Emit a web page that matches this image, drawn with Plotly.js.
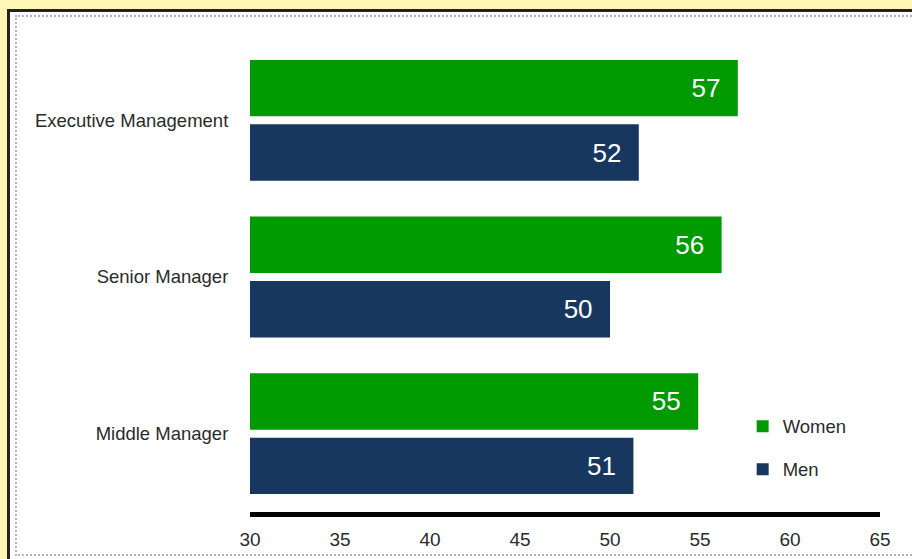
<!DOCTYPE html>
<html>
<head>
<meta charset="utf-8">
<script src="https://cdn.plot.ly/plotly-3.0.1.min.js"></script>
<style>
  html, body { margin:0; padding:0; width:912px; height:559px; overflow:hidden; background:#FFF6B5; }
  #frame { position:absolute; left:7px; top:9px; width:940px; height:560px; border:3px solid #222; background:#fff; box-sizing:border-box; }
  #inner { position:absolute; left:15px; top:15px; width:940px; height:541px; border:2px dotted #b5b5b5; box-sizing:border-box; }
  #chart { position:absolute; left:0; top:0; width:912px; height:559px; }
</style>
</head>
<body>
<div id="frame"></div>
<div id="inner"></div>
<div id="chart"></div>
<script>
const categories = ["Executive Management", "Senior Manager", "Middle Manager"];
const women = [57.1, 56.2, 54.9];
const men = [51.6, 50.0, 51.3];
const xTicks = [30, 35, 40, 45, 50, 55, 60, 65];

const font = "Liberation Sans, Arial, sans-serif";
const NB = "\u00a0";

const traces = [
  {
    type: "bar", orientation: "h", name: "Women", legendgroup: "w",
    y: categories, x: women,
    marker: { color: "#009900", line: { width: 0 } },
    texttemplate: "%{x:.0f}" + NB + NB, textposition: "inside", insidetextanchor: "end",
    insidetextfont: { color: "#ffffff", size: 26, family: font },
    hoverinfo: "skip"
  },
  {
    type: "bar", orientation: "h", name: "Men", legendgroup: "m",
    y: categories, x: men,
    marker: { color: "#17375E", line: { width: 0 } },
    texttemplate: "%{x:.0f}" + NB + NB, textposition: "inside", insidetextanchor: "end",
    insidetextfont: { color: "#ffffff", size: 26, family: font },
    hoverinfo: "skip"
  }
];

const layout = {
  width: 912, height: 559,
  margin: { l: 250, r: 32, t: 42, b: 47, pad: 0 },
  paper_bgcolor: "rgba(0,0,0,0)",
  plot_bgcolor: "rgba(0,0,0,0)",
  barmode: "group", bargap: 0.178, bargroupgap: 0.124,
  font: { family: font, color: "#2b2b2b" },
  showlegend: true,
  legend: {
    x: 0.782, xanchor: "left", y: 0.222, yanchor: "top",
    traceorder: "grouped", tracegroupgap: 16,
    font: { size: 18.5, family: font, color: "#2b2b2b" },
    bgcolor: "rgba(0,0,0,0)", itemwidth: 30
  },
  xaxis: {
    range: [30, 65], tickvals: xTicks, ticktext: xTicks.map(String),
    showgrid: false, zeroline: false,
    showline: true, linecolor: "#000", linewidth: 5,
    ticks: "outside", ticklen: 6, tickcolor: "rgba(0,0,0,0)",
    tickfont: { size: 19, family: font, color: "#2b2b2b" },
    fixedrange: true
  },
  yaxis: {
    type: "category", categoryorder: "array", categoryarray: categories,
    autorange: "reversed",
    showgrid: false, zeroline: false, showline: false,
    ticks: "outside", ticklen: 17, tickcolor: "rgba(0,0,0,0)",
    tickfont: { size: 18.5, family: font, color: "#2b2b2b" },
    fixedrange: true
  }
};

Plotly.newPlot("chart", traces, layout, { staticPlot: true, displayModeBar: false });
</script>
</body>
</html>
